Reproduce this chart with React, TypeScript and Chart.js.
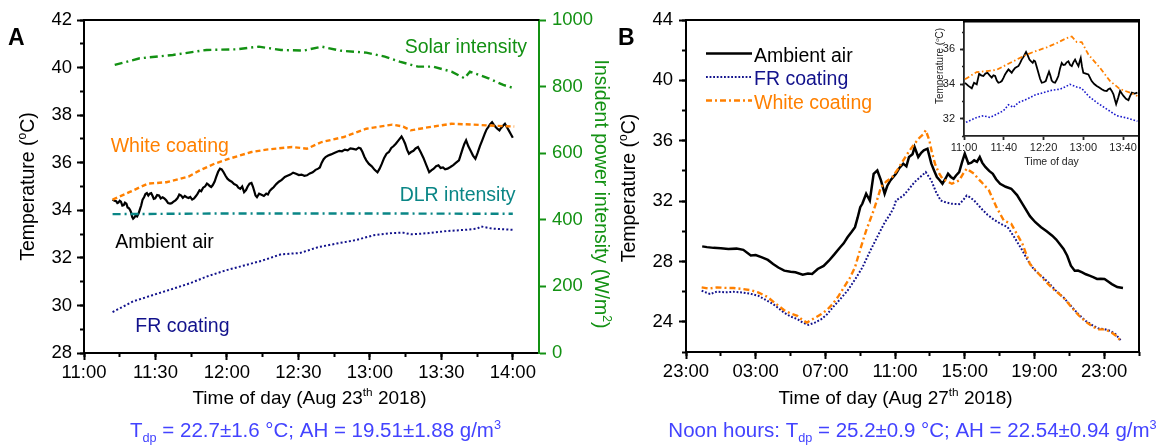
import React, { useEffect, useRef } from "react";
import { Chart, registerables } from "chart.js";

Chart.register(...registerables);

const FONT = '"Liberation Sans", Arial, Helvetica, sans-serif';
const C_BLACK = "#000000";
const C_NAVY = "#12128c";
const C_ORANGE = "#ff8000";
const C_GREEN = "#139113";
const C_TEAL = "#0a8686";
const C_BLUE = "#4343ff";

// ---------------- Panel A (minutes after 11:00, Aug 23 2018) ----------------
const aAmbientTime = [12, 12.8, 13.5, 14, 14.4, 15, 15.5, 16.1, 16.7, 17.2, 17.8, 18.3, 18.9, 19.4, 19.8, 20.2, 20.6, 21.1, 21.7, 22.3, 22.9, 23.5, 24, 24.6, 25.2, 25.8, 26.4, 27, 27.6, 28.2, 28.8, 29.3, 29.9, 30.7, 31.5, 32.2, 33, 33.7, 34.5, 35.3, 36.1, 36.8, 37.6, 38.4, 39.2, 40, 40.8, 41.5, 42.3, 43.1, 43.9, 44.6, 45.4, 46.2, 47, 47.7, 48.5, 49.2, 50, 50.8, 51.6, 52.2, 52.8, 53.4, 54, 54.8, 55.5, 56.3, 57.1, 57.8, 58.6, 59.4, 60.2, 61.1, 62, 63, 64.1, 64.8, 65.6, 66.4, 67.2, 68, 68.7, 69.5, 70.3, 70.9, 71.5, 72, 72.6, 73.5, 74.5, 75.5, 76.5, 77.2, 78, 78.8, 79.6, 80.7, 81.8, 83, 84.3, 85.4, 86.6, 87.8, 89, 90.2, 91.3, 92.5, 93.6, 94.8, 96, 97.2, 98.3, 99, 99.8, 100.6, 101.4, 102.5, 103.7, 104.8, 106, 107.2, 108.3, 109.5, 110.7, 111.8, 113, 114.2, 115.3, 116.1, 116.9, 117.7, 118.5, 119.6, 120.8, 122, 123.2, 124.1, 125, 126, 127, 128, 129, 130, 130.9, 132.1, 133.3, 134, 134.8, 135.6, 136.4, 137.3, 138.3, 139.2, 140.2, 141.3, 142.5, 143.7, 144.9, 145.8, 146.8, 147.8, 148.8, 149.7, 150.7, 151.6, 152.6, 153.8, 155, 156.2, 157.4, 158.2, 159, 159.7, 160.4, 161.3, 162.3, 163.3, 164.3, 165.2, 166.2, 167.2, 168.2, 169, 169.7, 170.5, 171.3, 172, 172.8, 173.6, 174.4, 175, 175.5, 176.1, 176.7, 177.5, 178.3, 179.2, 180];
const aAmbientTemp = [34.45, 34.4, 34.38, 34.3, 34.32, 34.4, 34.36, 34.2, 34.22, 34.32, 34.28, 34.12, 34.08, 34.0, 33.9, 33.72, 33.65, 33.7, 33.78, 33.74, 33.86, 34.05, 34.2, 34.45, 34.55, 34.68, 34.72, 34.62, 34.7, 34.72, 34.6, 34.48, 34.5, 34.64, 34.62, 34.5, 34.55, 34.5, 34.42, 34.3, 34.28, 34.3, 34.36, 34.42, 34.5, 34.66, 34.62, 34.52, 34.6, 34.55, 34.52, 34.56, 34.45, 34.5, 34.6, 34.7, 34.84, 34.8, 34.95, 35.0, 35.12, 35.08, 35.02, 34.98, 35.05, 35.2, 35.4, 35.62, 35.75, 35.72, 35.6, 35.45, 35.33, 35.25, 35.2, 35.1, 35.05, 34.95, 34.9, 35.0, 34.76, 34.85, 35.0, 35.12, 35.15, 35.0, 34.8, 34.62, 34.55, 34.7, 34.65, 34.6, 34.7, 34.66, 34.82, 34.9, 34.97, 35.1, 35.2, 35.28, 35.4, 35.45, 35.5, 35.58, 35.54, 35.48, 35.5, 35.45, 35.47, 35.55, 35.6, 35.7, 35.75, 35.8, 36.0, 36.15, 36.24, 36.3, 36.35, 36.4, 36.45, 36.5, 36.48, 36.55, 36.52, 36.6, 36.58, 36.55, 36.63, 36.6, 36.45, 36.25, 36.1, 35.95, 35.85, 35.7, 35.6, 35.75, 35.95, 36.2, 36.38, 36.45, 36.62, 36.7, 36.8, 36.95, 37.1, 36.98, 36.8, 36.55, 36.38, 36.45, 36.5, 36.6, 36.66, 36.45, 36.2, 35.9, 35.6, 35.68, 35.75, 35.85, 35.89, 35.78, 35.8, 35.72, 35.75, 35.82, 35.9, 36.0, 36.1, 36.35, 36.6, 36.8, 36.94, 36.7, 36.5, 36.3, 36.17, 36.4, 36.7, 36.95, 37.21, 37.4, 37.5, 37.62, 37.7, 37.6, 37.5, 37.42, 37.36, 37.45, 37.5, 37.58, 37.64, 37.5, 37.36, 37.2, 37.05];
const aFrTime = [12, 20.6, 28.4, 36.1, 44.7, 51.7, 59.4, 67.2, 75, 82.7, 90.5, 98.3, 106, 113.8, 121.6, 129.3, 134, 137.2, 144.9, 152.6, 160.4, 165.1, 166.7, 171.3, 180];
const aFrTemp = [29.72, 30.17, 30.42, 30.66, 30.94, 31.22, 31.47, 31.68, 31.89, 32.15, 32.2, 32.45, 32.6, 32.74, 32.95, 33.04, 33.06, 32.99, 33.04, 33.13, 33.18, 33.23, 33.32, 33.23, 33.18];
const aWhiteTime = [12, 19, 26.8, 34.6, 43.9, 48.6, 54.8, 61, 70.3, 76.5, 87.4, 93.6, 99.8, 109.1, 118.5, 129.4, 134, 137.1, 143.4, 154.3, 163.6, 172.8, 180.6];
const aWhiteTemp = [34.45, 34.76, 35.12, 35.18, 35.42, 35.68, 35.96, 36.17, 36.45, 36.55, 36.66, 36.59, 36.87, 37.08, 37.43, 37.6, 37.52, 37.36, 37.47, 37.64, 37.6, 37.55, 37.52];
const aSolarTime = [12.9, 23.4, 37.3, 51.4, 64, 73.4, 82.7, 92.1, 99.8, 107.6, 118.5, 126.3, 132.5, 140.2, 146.5, 154.3, 159.7, 162, 169.8, 176, 180.6];
const aSolarPower = [865, 885, 895, 910, 912, 920, 910, 908, 920, 908, 902, 890, 875, 860, 860, 845, 825, 845, 825, 805, 795];
const aDlrTime = [12, 60, 120, 180];
const aDlrPower = [417, 419, 419, 418];
const aXTickValues = [0, 30, 60, 90, 120, 150, 180];
const aXTickLabels = ["11:00", "11:30", "12:00", "12:30", "13:00", "13:30", "14:00"];
const aYTicks = [28, 30, 32, 34, 36, 38, 40, 42];
const aY2Ticks = [0, 200, 400, 600, 800, 1000];

// ---------------- Panel B (hours after 23:00, Aug 26 2018) ----------------
const bAmbientTime = [0.93, 1.2, 1.58, 2.0, 2.43, 2.9, 3.29, 3.72, 4.0, 4.36, 4.7, 5.0, 5.3, 5.64, 6.0, 6.28, 6.7, 7.0, 7.24, 7.56, 7.9, 8.2, 8.5, 8.85, 9.05, 9.27, 9.5, 9.7, 9.85, 10.0, 10.12, 10.34, 10.55, 10.77, 10.98, 11.19, 11.4, 11.55, 11.73, 12.05, 12.25, 12.47, 12.65, 12.8, 13.0, 13.12, 13.33, 13.5, 13.65, 13.86, 14.08, 14.25, 14.4, 14.55, 14.72, 14.9, 15.04, 15.2, 15.36, 15.5, 15.68, 15.85, 16.0, 16.21, 16.38, 16.54, 16.7, 16.86, 17.0, 17.18, 17.4, 17.61, 17.8, 18.03, 18.35, 18.67, 19.0, 19.31, 19.74, 20.05, 20.38, 20.7, 21.02, 21.25, 21.45, 21.67, 21.88, 22.09, 22.31, 22.5, 22.74, 22.95, 23.16, 23.4, 23.59, 23.8, 24.02, 24.25, 24.44, 24.75, 25.08];
const bAmbientTemp = [29.0, 28.95, 28.9, 28.88, 28.83, 28.85, 28.77, 28.39, 28.42, 28.27, 28.1, 27.83, 27.6, 27.39, 27.32, 27.28, 27.12, 27.2, 27.17, 27.5, 27.7, 28.05, 28.45, 28.94, 29.2, 29.6, 29.95, 30.27, 30.9, 31.6, 31.82, 32.49, 32.04, 33.81, 34.03, 33.37, 32.49, 33.0, 33.37, 33.81, 34.2, 34.48, 34.3, 34.92, 35.1, 35.58, 34.92, 35.2, 35.36, 35.47, 34.48, 34.0, 33.59, 33.4, 33.15, 33.5, 33.81, 33.6, 33.48, 33.7, 33.92, 34.6, 35.14, 34.48, 34.55, 34.7, 34.6, 34.92, 34.55, 34.26, 34.0, 33.81, 33.45, 33.15, 32.95, 32.82, 32.4, 31.82, 31.0, 30.6, 30.27, 30.0, 29.71, 29.45, 29.16, 28.83, 28.38, 27.72, 27.39, 27.4, 27.28, 27.15, 27.06, 26.95, 26.84, 26.86, 26.84, 26.65, 26.5, 26.3, 26.24];
const bFrTime = [0.9, 1.38, 1.77, 2.25, 2.73, 3.2, 3.69, 4.14, 4.66, 5.0, 5.62, 6.0, 6.39, 6.7, 7.03, 7.4, 7.77, 8.1, 8.42, 8.85, 9.27, 9.7, 10.13, 10.45, 10.77, 11.1, 11.41, 11.7, 11.94, 12.05, 12.48, 12.8, 13.12, 13.45, 13.76, 14.08, 14.35, 14.62, 14.95, 15.26, 15.68, 15.9, 16.11, 16.3, 16.54, 16.96, 17.3, 17.61, 18.05, 18.46, 18.9, 19.31, 19.6, 19.95, 20.38, 20.8, 21.2, 21.67, 22.1, 22.52, 22.95, 23.38, 23.7, 24.02, 24.35, 24.66, 25.0];
const bFrTemp = [26.06, 25.84, 26.0, 25.95, 25.99, 25.95, 25.86, 25.73, 25.4, 25.18, 24.62, 24.35, 24.18, 23.95, 23.8, 23.95, 24.18, 24.5, 24.95, 25.5, 26.06, 26.8, 27.61, 28.4, 29.16, 29.9, 30.6, 31.1, 31.6, 32.04, 32.37, 32.8, 33.26, 33.6, 33.92, 33.37, 32.6, 32.04, 31.9, 31.82, 31.8, 32.05, 32.37, 32.25, 32.04, 31.49, 31.1, 30.82, 30.5, 30.27, 29.5, 28.72, 28.1, 27.5, 27.05, 26.61, 26.1, 25.61, 25.05, 24.51, 24.05, 23.73, 23.55, 23.51, 23.4, 23.18, 22.7];
const bWhiteTime = [0.9, 1.3, 1.77, 2.25, 2.73, 3.2, 3.69, 4.14, 4.66, 5.1, 5.62, 6.0, 6.39, 6.7, 6.94, 7.3, 7.77, 8.1, 8.42, 8.75, 9.06, 9.4, 9.7, 10.0, 10.34, 10.55, 10.77, 11.0, 11.19, 11.5, 11.83, 12.15, 12.47, 12.8, 13.12, 13.4, 13.65, 13.76, 13.97, 14.1, 14.29, 14.5, 14.72, 15.0, 15.26, 15.68, 15.9, 16.11, 16.3, 16.54, 16.75, 16.96, 17.39, 17.82, 18.24, 18.67, 19.0, 19.31, 19.74, 20.15, 20.6, 21.1, 21.67, 22.1, 22.52, 22.95, 23.38, 23.7, 24.02, 24.35, 24.66, 25.0];
const bWhiteTemp = [26.28, 26.2, 26.28, 26.25, 26.24, 26.18, 26.1, 25.95, 25.66, 25.25, 24.78, 24.55, 24.4, 24.1, 23.95, 24.2, 24.51, 24.8, 25.18, 25.7, 26.28, 26.9, 27.61, 28.8, 30.05, 30.7, 31.38, 32.2, 32.93, 33.3, 33.59, 34.1, 34.7, 35.3, 35.8, 36.2, 36.47, 36.69, 36.02, 35.3, 34.48, 33.9, 33.48, 33.3, 33.15, 33.37, 33.8, 34.15, 34.0, 33.81, 33.5, 33.26, 32.7, 31.6, 30.71, 30.49, 29.8, 29.16, 27.83, 27.3, 26.72, 26.15, 25.6, 25.0, 24.45, 24.0, 23.65, 23.5, 23.5, 23.35, 23.1, 22.68];
const bXTickValues = [0, 4, 8, 12, 16, 20, 24];
const bXTickLabels = ["23:00", "03:00", "07:00", "11:00", "15:00", "19:00", "23:00"];
const bYTicks = [24, 28, 32, 36, 40, 44];
const bLegendLabels = ["Ambient air", "FR coating", "White coating"];

// ---------------- Inset (minutes after 11:00, Aug 27 2018) ----------------
const iAmbientTime = [1, 4.4, 7.8, 10.1, 12.8, 15.2, 17.3, 19.5, 21.5, 23.6, 25.8, 27.9, 29.6, 31.3, 33, 34.6, 36.3, 38, 39.7, 41.3, 43, 44.7, 46.3, 48, 49.7, 51.4, 53, 54.7, 56.4, 58, 60.2, 62.4, 64.1, 65.8, 67.5, 69.1, 70.3, 71.5, 73.1, 74.8, 76.5, 78.2, 80.2, 82.2, 83.8, 85.5, 86.8, 88.2, 89.9, 91.6, 93.3, 94.9, 96.6, 98.3, 99.9, 101.6, 103.3, 105, 106.7, 108.4, 110, 111.7, 113.4, 115.1, 116.3, 117.4, 118.7, 120, 122.5, 125.1, 126.8, 128.4, 131, 133.5, 136, 138.5, 141, 143.6, 145.2, 146.9, 148.6, 150.3, 151.7, 153, 155, 157, 158.7, 160.4, 162.9, 165.4, 167, 168.8, 171.6, 174.4];
const iAmbientTemp = [34.07, 33.89, 33.75, 34.07, 33.98, 34.59, 34.5, 34.46, 34.6, 34.65, 34.5, 34.37, 34.5, 34.46, 34.2, 34.07, 34.1, 34.17, 34.35, 34.55, 34.7, 34.84, 34.75, 34.65, 34.8, 34.93, 34.98, 35.03, 35.2, 35.41, 35.6, 35.85, 35.65, 35.41, 35.3, 35.22, 35.35, 35.31, 35.0, 34.65, 34.3, 34.07, 34.1, 34.17, 34.45, 34.71, 34.5, 34.2, 34.1, 34.07, 34.25, 34.46, 34.9, 35.22, 35.1, 35.12, 35.25, 35.31, 35.1, 35.03, 35.25, 35.41, 35.2, 35.03, 35.3, 35.5, 35.0, 34.65, 34.6, 34.55, 34.35, 34.17, 34.0, 33.89, 33.8, 33.7, 33.62, 33.6, 33.7, 33.75, 33.6, 33.41, 33.1, 32.84, 33.2, 33.6, 33.45, 33.31, 33.15, 33.07, 33.3, 33.5, 33.45, 33.5];
const iFrTime = [2, 12.8, 19.5, 26.2, 32.9, 39.7, 44.7, 49.7, 54.7, 63.1, 71.5, 79.9, 88.3, 96.6, 101.6, 106.6, 113.4, 118.4, 125.1, 133.5, 143.6, 153.6, 163.7, 174.4];
const iFrTemp = [31.79, 32.07, 32.17, 32.07, 32.26, 32.46, 32.8, 32.65, 32.93, 33.12, 33.37, 33.5, 33.64, 33.7, 33.83, 33.98, 33.83, 33.75, 33.31, 32.93, 32.55, 32.17, 32.04, 31.85];
const iWhiteTime = [1, 12.7, 22.8, 32.9, 43, 53, 63.1, 73.1, 83.2, 93.3, 103.3, 108.4, 113.4, 118.4, 125.1, 136.8, 146.9, 157, 167, 174.4];
const iWhiteTemp = [34.27, 34.69, 34.74, 34.82, 35.12, 35.41, 35.7, 35.92, 36.11, 36.36, 36.65, 36.74, 36.42, 36.42, 35.7, 34.93, 34.17, 33.7, 33.5, 33.31];
const iXTickValues = [0, 40, 80, 120, 160];
const iXTickLabels = ["11:00", "11:40", "12:20", "13:00", "13:40"];
const iYTicks = [32, 34, 36];

// ---------------- helpers ----------------
type Seg = { t: string; k?: "sup" | "sub" };

const pts = (xs: number[], ys: number[]) => xs.map((x, i) => ({ x, y: ys[i] }));
const range = (a: number, b: number, s: number) => {
  const r: number[] = [];
  for (let v = a; v <= b + 1e-9; v += s) r.push(+v.toFixed(4));
  return r;
};

function drawRich(ctx: CanvasRenderingContext2D, segs: Seg[], x: number, y: number, size: number, color: string, align: "left" | "center", weight = "normal") {
  const big = `${weight} ${size}px ${FONT}`;
  const small = `${weight} ${(size * 0.62).toFixed(1)}px ${FONT}`;
  let w = 0;
  for (const s of segs) {
    ctx.font = s.k ? small : big;
    w += ctx.measureText(s.t).width;
  }
  let cx = align === "center" ? x - w / 2 : x;
  ctx.fillStyle = color;
  ctx.textBaseline = "alphabetic";
  ctx.textAlign = "left";
  for (const s of segs) {
    ctx.font = s.k ? small : big;
    const dy = s.k === "sup" ? -size * 0.4 : s.k === "sub" ? size * 0.24 : 0;
    ctx.fillText(s.t, cx, y + dy);
    cx += ctx.measureText(s.t).width;
  }
}

function majorAxis(o: any) {
  return {
    type: "linear",
    axis: o.axis,
    position: o.position,
    min: o.min,
    max: o.max,
    weight: 1,
    afterBuildTicks: (s: any) => {
      s.ticks = o.values.map((v: number) => ({ value: v }));
    },
    afterFit: (s: any) => {
      if (o.axis === "x") s.height = o.size;
      else s.width = o.size;
    },
    ticks: {
      autoSkip: false,
      maxRotation: 0,
      minRotation: 0,
      padding: o.pad,
      color: o.color,
      font: { family: FONT, size: o.font },
      callback: (v: number) => (o.labels ? o.labels[o.values.indexOf(v)] : String(v)),
    },
    grid: { drawOnChartArea: false, drawTicks: true, tickLength: o.tick, tickWidth: o.lw, tickColor: o.color },
    border: { display: true, color: o.color, width: o.lw },
  };
}

function minorAxis(o: any) {
  return {
    type: "linear",
    axis: o.axis,
    position: o.position,
    min: o.min,
    max: o.max,
    weight: 0,
    afterBuildTicks: (s: any) => {
      s.ticks = o.values.map((v: number) => ({ value: v }));
    },
    afterFit: (s: any) => {
      if (o.axis === "x") s.height = 0;
      else s.width = 0;
    },
    ticks: { display: false },
    grid: { drawOnChartArea: false, drawTicks: true, tickLength: o.tick, tickWidth: o.lw, tickColor: o.color },
    border: { display: false },
  };
}

function line(label: string, data: any[], color: string, width: number, dash: number[], yAxisID = "y") {
  return {
    label,
    data,
    borderColor: color,
    backgroundColor: color,
    borderWidth: width,
    borderDash: dash,
    pointRadius: 0,
    fill: false,
    tension: 0,
    xAxisID: "x",
    yAxisID,
  };
}

const baseOptions = {
  animation: false,
  responsive: false,
  maintainAspectRatio: false,
  devicePixelRatio: 1,
  events: [],
  plugins: { legend: { display: false }, tooltip: { enabled: false } },
};

const aNotes = [
  { text: "Solar intensity", x: 134.6, y: 40.6, color: C_GREEN },
  { text: "White coating", x: 11.2, y: 36.47, color: C_ORANGE },
  { text: "DLR intensity", x: 132.5, y: 34.37, color: C_TEAL },
  { text: "Ambient air", x: 13.1, y: 32.4, color: C_BLACK },
  { text: "FR coating", x: 21.5, y: 28.9, color: C_NAVY },
];

function configA(): any {
  const textPlugin = {
    id: "textA",
    afterDraw(chart: any) {
      const { ctx, chartArea: ca, scales } = chart;
      ctx.save();
      ctx.strokeStyle = C_BLACK;
      ctx.lineWidth = 2;
      ctx.beginPath();
      ctx.moveTo(ca.left - 1, ca.top);
      ctx.lineTo(ca.right, ca.top);
      ctx.stroke();
      drawRich(ctx, [{ t: "A" }], 8, 45, 23, C_BLACK, "left", "bold");
      for (const n of aNotes) {
        drawRich(ctx, [{ t: n.text }], scales.x.getPixelForValue(n.x), scales.y.getPixelForValue(n.y), 19.5, n.color, "left");
      }
      const cx = (ca.left + ca.right) / 2;
      drawRich(ctx, [{ t: "Time of day (Aug 23" }, { t: "th", k: "sup" }, { t: " 2018)" }], cx - 2, 403.5, 19, C_BLACK, "center");
      drawRich(
        ctx,
        [{ t: "T" }, { t: "dp", k: "sub" }, { t: " = 22.7\u00b11.6 \u00b0C; AH = 19.51\u00b11.88 g/m" }, { t: "3", k: "sup" }],
        cx + 4,
        437,
        20.5,
        C_BLUE,
        "center"
      );
      ctx.save();
      ctx.translate(33.5, (ca.top + ca.bottom) / 2);
      ctx.rotate(-Math.PI / 2);
      drawRich(ctx, [{ t: "Temperature (" }, { t: "o", k: "sup" }, { t: "C)" }], 0, 0, 19.5, C_BLACK, "center");
      ctx.restore();
      ctx.save();
      ctx.translate(595, 194);
      ctx.rotate(Math.PI / 2);
      drawRich(ctx, [{ t: "Insident power intensity (W/m" }, { t: "2", k: "sup" }, { t: ")" }], 0, 0, 19.5, C_GREEN, "center");
      ctx.restore();
      ctx.restore();
    },
  };
  return {
    type: "line",
    data: {
      datasets: [
        line("Solar intensity", pts(aSolarTime, aSolarPower), C_GREEN, 2.4, [8, 4, 2, 4], "y2"),
        line("DLR intensity", pts(aDlrTime, aDlrPower), C_TEAL, 2.4, [8, 4, 2, 4], "y2"),
        line("White coating", pts(aWhiteTime, aWhiteTemp), C_ORANGE, 2.4, [5, 3]),
        line("FR coating", pts(aFrTime, aFrTemp), C_NAVY, 2, [2, 2.2]),
        line("Ambient air", pts(aAmbientTime, aAmbientTemp), C_BLACK, 2.2, []),
      ],
    },
    options: {
      ...baseOptions,
      layout: { padding: { top: 20, left: 0, right: 0, bottom: 0 } },
      scales: {
        x: majorAxis({ axis: "x", position: "bottom", min: 0, max: 191, values: aXTickValues, labels: aXTickLabels, size: 92, pad: 2, color: C_BLACK, font: 18.5, tick: 7, lw: 2 }),
        xMinor: minorAxis({ axis: "x", position: "bottom", min: 0, max: 191, values: range(0, 180, 15), tick: 4, lw: 2, color: C_BLACK }),
        y: majorAxis({ axis: "y", position: "left", min: 28, max: 42, values: aYTicks, size: 84, pad: 5, color: C_BLACK, font: 18.5, tick: 7, lw: 2 }),
        yMinor: minorAxis({ axis: "y", position: "left", min: 28, max: 42, values: range(28, 42, 1), tick: 4, lw: 2, color: C_BLACK }),
        y2: majorAxis({ axis: "y", position: "right", min: 0, max: 1000, values: aY2Ticks, size: 81, pad: 6, color: C_GREEN, font: 18.5, tick: 7, lw: 2 }),
      },
    },
    plugins: [textPlugin],
  };
}

function configB(): any {
  const textPlugin = {
    id: "textB",
    afterDraw(chart: any) {
      const { ctx, chartArea: ca } = chart;
      ctx.save();
      ctx.strokeStyle = C_BLACK;
      ctx.lineWidth = 2;
      ctx.beginPath();
      ctx.moveTo(ca.left - 1, ca.top);
      ctx.lineTo(ca.right, ca.top);
      ctx.lineTo(ca.right, ca.bottom + 1);
      ctx.stroke();
      drawRich(ctx, [{ t: "B" }], 8, 45, 23, C_BLACK, "left", "bold");
      // legend
      const ds = chart.data.datasets;
      const order = [2, 1, 0];
      order.forEach((di: number, row: number) => {
        const d = ds[di];
        const y = ca.top + 33.5 + row * 23.5;
        ctx.save();
        ctx.strokeStyle = d.borderColor;
        ctx.lineWidth = d.borderWidth;
        ctx.setLineDash(d.borderDash);
        ctx.beginPath();
        ctx.moveTo(ca.left + 20, y);
        ctx.lineTo(ca.left + 66, y);
        ctx.stroke();
        ctx.restore();
        drawRich(ctx, [{ t: bLegendLabels[row] }], ca.left + 68, y + 8, 19.5, d.borderColor, "left");
      });
      const cx = (ca.left + ca.right) / 2;
      drawRich(ctx, [{ t: "Time of day (Aug 27" }, { t: "th", k: "sup" }, { t: " 2018)" }], cx - 17, 403.5, 19, C_BLACK, "center");
      drawRich(
        ctx,
        [{ t: "Noon hours: T" }, { t: "dp", k: "sub" }, { t: " = 25.2\u00b10.9 \u00b0C; AH = 22.54\u00b10.94 g/m" }, { t: "3", k: "sup" }],
        cx,
        437,
        20.5,
        C_BLUE,
        "center"
      );
      ctx.save();
      ctx.translate(25, 188);
      ctx.rotate(-Math.PI / 2);
      drawRich(ctx, [{ t: "Temperature (" }, { t: "o", k: "sup" }, { t: "C)" }], 0, 0, 19.5, C_BLACK, "center");
      ctx.restore();
      ctx.restore();
    },
  };
  return {
    type: "line",
    data: {
      datasets: [
        line("White coating", pts(bWhiteTime, bWhiteTemp), C_ORANGE, 2.4, [6, 3, 2, 3]),
        line("FR coating", pts(bFrTime, bFrTemp), C_NAVY, 2, [1.8, 1.8]),
        line("Ambient air", pts(bAmbientTime, bAmbientTemp), C_BLACK, 2.5, []),
      ],
    },
    options: {
      ...baseOptions,
      layout: { padding: { top: 20, left: 0, right: 23, bottom: 0 } },
      scales: {
        x: majorAxis({ axis: "x", position: "bottom", min: 0, max: 26, values: bXTickValues, labels: bXTickLabels, size: 93, pad: 2, color: C_BLACK, font: 18.5, tick: 7, lw: 2 }),
        xMinor: minorAxis({ axis: "x", position: "bottom", min: 0, max: 26, values: range(0, 26, 2), tick: 4, lw: 2, color: C_BLACK }),
        y: majorAxis({ axis: "y", position: "left", min: 22, max: 44, values: bYTicks, size: 76, pad: 6, color: C_BLACK, font: 18.5, tick: 7, lw: 2 }),
        yMinor: minorAxis({ axis: "y", position: "left", min: 22, max: 44, values: range(22, 44, 2), tick: 4, lw: 2, color: C_BLACK }),
      },
    },
    plugins: [textPlugin],
  };
}

function configInset(): any {
  const textPlugin = {
    id: "textI",
    afterDraw(chart: any) {
      const { ctx, chartArea: ca } = chart;
      ctx.save();
      ctx.strokeStyle = C_BLACK;
      ctx.lineWidth = 1.8;
      ctx.beginPath();
      ctx.moveTo(ca.left - 1, ca.top);
      ctx.lineTo(ca.right, ca.top);
      ctx.lineTo(ca.right, ca.bottom + 1);
      ctx.stroke();
      drawRich(ctx, [{ t: "Time of day" }], (ca.left + ca.right) / 2, 155, 10.5, "#222", "center");
      ctx.save();
      ctx.translate(53, 56);
      ctx.rotate(-Math.PI / 2);
      drawRich(ctx, [{ t: "Temperature (" }, { t: "o", k: "sup" }, { t: "C)" }], 0, 0, 10, "#222", "center");
      ctx.restore();
      ctx.restore();
    },
  };
  return {
    type: "line",
    data: {
      datasets: [
        line("White coating", pts(iWhiteTime, iWhiteTemp), C_ORANGE, 1.8, [5, 2.5, 1.5, 2.5]),
        line("FR coating", pts(iFrTime, iFrTemp), "#1a1acc", 1.6, [1.6, 1.8]),
        line("Ambient air", pts(iAmbientTime, iAmbientTemp), C_BLACK, 1.8, []),
      ],
    },
    options: {
      ...baseOptions,
      layout: { padding: { top: 10, left: 0, right: 13, bottom: 0 } },
      scales: {
        x: majorAxis({ axis: "x", position: "bottom", min: 0, max: 176, values: iXTickValues, labels: iXTickLabels, size: 44, pad: 1, color: "#222", font: 11, tick: 4, lw: 1.8 }),
        y: majorAxis({ axis: "y", position: "left", min: 31, max: 37.6, values: iYTicks, size: 74, pad: 5, color: "#222", font: 11, tick: 4, lw: 1.8 }),
        yMinor: minorAxis({ axis: "y", position: "left", min: 31, max: 37.6, values: range(31, 37, 1), tick: 2, lw: 1.5, color: "#222" }),
      },
    },
    plugins: [textPlugin],
  };
}

export default function App() {
  const refA = useRef<HTMLCanvasElement>(null);
  const refB = useRef<HTMLCanvasElement>(null);
  const refI = useRef<HTMLCanvasElement>(null);
  useEffect(() => {
    const charts: Chart[] = [];
    if (refA.current) charts.push(new Chart(refA.current, configA()));
    if (refB.current) charts.push(new Chart(refB.current, configB()));
    if (refI.current) charts.push(new Chart(refI.current, configInset()));
    return () => charts.forEach((c) => c.destroy());
  }, []);
  return (
    <div style={{ position: "absolute", left: 0, top: 0, width: 1162, height: 445, background: "#ffffff", overflow: "hidden" }}>
      <canvas ref={refA} width={620} height={445} style={{ position: "absolute", left: 0, top: 0, width: 620, height: 445 }} />
      <canvas ref={refB} width={552} height={445} style={{ position: "absolute", left: 610, top: 0, width: 552, height: 445 }} />
      <canvas ref={refI} width={262} height={170} style={{ position: "absolute", left: 890, top: 10, width: 262, height: 170 }} />
    </div>
  );
}
